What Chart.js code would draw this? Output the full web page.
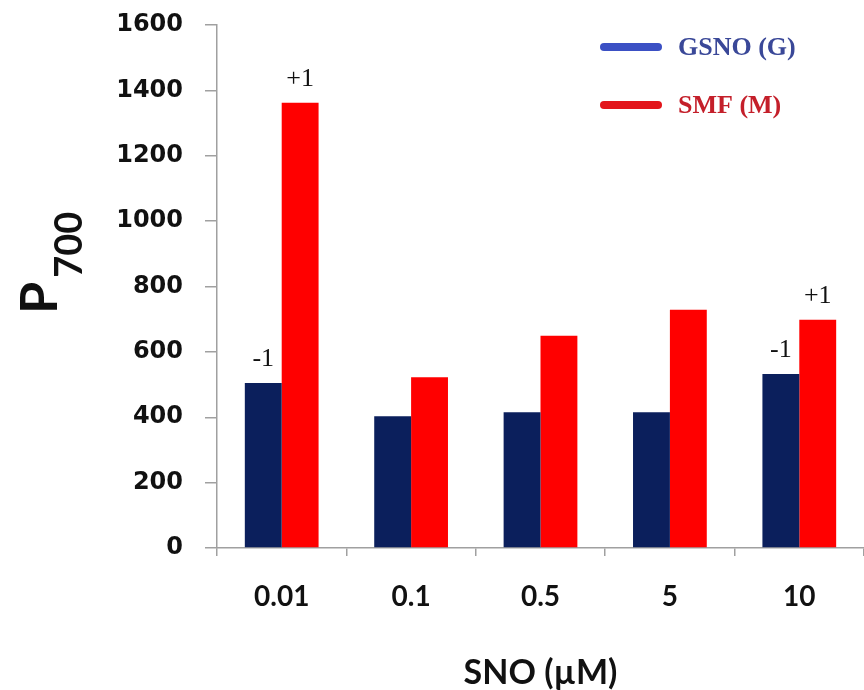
<!DOCTYPE html>
<html lang="en">
<head>
  <meta charset="UTF-8">
  <title>P700 vs SNO</title>
  <script src="https://cdn.jsdelivr.net/npm/chart.js"></script>
  <style>
    body { margin: 0; background: #fff; }
  </style>
</head>
<body>
<canvas id="chart" width="864" height="690"></canvas>

<script>
    const concentrations = ['0.01', '0.1', '0.5', '5', '10'];
    const gsnoValues = [505, 403, 415, 415, 532];
    const smfValues = [1362, 522, 649, 729, 698];
    const gsnoMarks = ['-1', '', '', '', '-1'];
    const smfMarks = ['+1', '', '', '', '+1'];
    const seriesLabels = ['GSNO (G)', 'SMF (M)'];
    const yTicks = [0, 200, 400, 600, 800, 1000, 1200, 1400, 1600];

    const axisGrey = '#a0a0a0';

    // -1 / +1 above the bars
    const markPlugin = {
        id: 'marks',
        afterDatasetsDraw(chart) {
            const ctx = chart.ctx;
            const marks = [gsnoMarks, smfMarks];
            ctx.save();
            ctx.font = '26px "Liberation Serif"';
            ctx.fillStyle = '#111';
            ctx.textAlign = 'center';
            ctx.textBaseline = 'alphabetic';
            marks.forEach((list, d) => {
                chart.getDatasetMeta(d).data.forEach((bar, i) => {
                    if (list[i]) ctx.fillText(list[i], bar.x, bar.y - 17);
                });
            });
            ctx.restore();
        }
    };

    // legend drawn as thick lines at top right
    const legendPlugin = {
        id: 'lineLegend',
        afterDraw(chart) {
            const ctx = chart.ctx;
            const lineColors = ['#3b50c4', '#e3151b'];
            const textColors = ['#3a4898', '#c41f2a'];
            ctx.save();
            ctx.lineCap = 'round';
            ctx.lineWidth = 8;
            ctx.font = 'bold 26px "Liberation Serif"';
            ctx.textBaseline = 'middle';
            seriesLabels.forEach((label, i) => {
                const y = 47 + i * 58;
                ctx.strokeStyle = lineColors[i];
                ctx.beginPath();
                ctx.moveTo(604, y);
                ctx.lineTo(658, y);
                ctx.stroke();
                ctx.fillStyle = textColors[i];
                ctx.fillText(label, 678, y + 1);
            });
            ctx.restore();
        }
    };

    // y title: P with subscript 700
    const yTitlePlugin = {
        id: 'yTitle',
        afterDraw(chart) {
            const ctx = chart.ctx;
            ctx.save();
            ctx.translate(57, 314);
            ctx.rotate(-Math.PI / 2);
            ctx.fillStyle = '#111';
            ctx.textBaseline = 'alphabetic';
            ctx.font = 'bold 52px Lato';
            ctx.fillText('P', 0, 0);
            const w = ctx.measureText('P').width;
            ctx.font = 'bold 38px Lato';
            ctx.fillText('700', w + 4, 25);
            ctx.restore();
        }
    };

    new Chart(document.getElementById('chart'), {
        type: 'bar',
        data: {
            labels: concentrations,
            datasets: [
                {
                    label: seriesLabels[0],
                    data: gsnoValues,
                    backgroundColor: '#0b1f5c'
                },
                {
                    label: seriesLabels[1],
                    data: smfValues,
                    backgroundColor: '#ff0000'
                }
            ]
        },
        options: {
            responsive: false,
            animation: false,
            categoryPercentage: 0.57,
            barPercentage: 1,
            layout: { padding: { top: 25, right: 0, left: 0, bottom: 0 } },
            plugins: {
                legend: { display: false },
                tooltip: { enabled: false }
            },
            scales: {
                x: {
                    afterFit(scale) { scale.height = 142; },
                    border: { color: axisGrey, width: 1.5 },
                    grid: { drawOnChartArea: false, color: axisGrey, tickLength: 8, lineWidth: 1.5 },
                    ticks: {
                        color: '#111',
                        padding: 24,
                        font: { family: 'Lato', size: 28, weight: 'bold' }
                    },
                    title: {
                        display: true,
                        text: 'SNO (\u00b5M)',
                        color: '#111',
                        padding: 0,
                        font: { family: 'Lato', size: 34, weight: 'bold', lineHeight: 1 }
                    }
                },
                y: {
                    min: 0,
                    max: 1600,
                    afterFit(scale) {
                        scale.width = 217;
                        scale.paddingTop = 0;
                        scale.paddingBottom = 0;
                    },
                    afterBuildTicks(scale) { scale.ticks = yTicks.map(v => ({ value: v })); },
                    border: { color: axisGrey, width: 1.5 },
                    grid: { drawOnChartArea: false, color: axisGrey, tickLength: 12, lineWidth: 1.5 },
                    ticks: {
                        color: '#111',
                        padding: 22,
                        font: { family: 'DejaVu Sans', size: 24, weight: 'bold' },
                        callback: v => String(v)
                    }
                }
            }
        },
        plugins: [markPlugin, legendPlugin, yTitlePlugin]
    });
</script>
</body>
</html>
